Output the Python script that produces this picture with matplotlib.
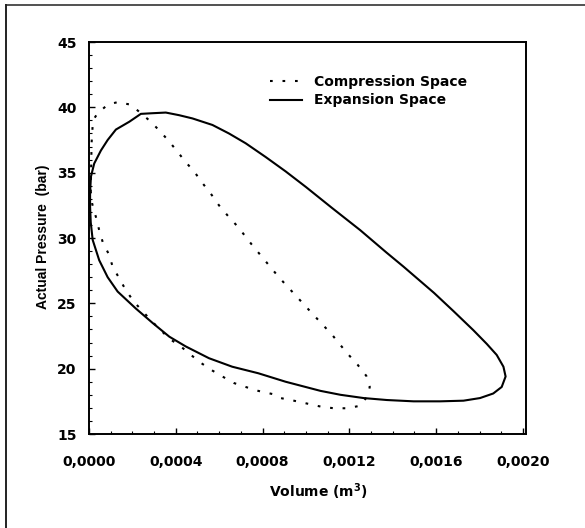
import numpy as np
import matplotlib
matplotlib.use("Agg")
import matplotlib.pyplot as plt
from matplotlib.lines import Line2D
from matplotlib.ticker import FixedLocator, MultipleLocator

# 数据
# 膨胀腔 p-V 回路（实线）
vol_exp = [0.000005, 0.000009, 0.000024, 0.000055, 0.000086, 0.000124,
           0.000186, 0.000239, 0.000293, 0.000354, 0.000415, 0.000477,
           0.000569, 0.000645, 0.000722, 0.000814, 0.000906, 0.00100,
           0.00112, 0.00125, 0.00137, 0.00145, 0.00159, 0.00168, 0.001771,
           0.001833, 0.001879, 0.00191, 0.00192, 0.001902, 0.001863,
           0.001802, 0.001726, 0.001618, 0.001496, 0.001373, 0.001266,
           0.001159, 0.001067, 0.000975, 0.000906, 0.00078, 0.00066,
           0.000553, 0.000446, 0.00037, 0.000293, 0.000216, 0.000132,
           0.000086, 0.000047, 0.000017, 0.000008, 0.000005]
p_exp = [33.5, 34.7, 35.7, 36.7, 37.5, 38.3, 38.9, 39.5, 39.55, 39.6, 39.4,
         39.15, 38.65, 38.0, 37.25, 36.2, 35.1, 33.9, 32.3, 30.6, 28.9, 27.8,
         25.8, 24.4, 22.95, 21.9, 21.05, 20.15, 19.4, 18.6, 18.1, 17.75,
         17.55, 17.5, 17.5, 17.6, 17.75, 18.0, 18.3, 18.7, 19.0, 19.65,
         20.15, 20.8, 21.7, 22.45, 23.5, 24.6, 25.9, 27.0, 28.3, 29.85, 31.2,
         32.4]

# 压缩腔 p-V 回路（点线）
vol_cmp = [0.000008, 0.00001, 0.000012, 0.000017, 0.000024, 0.00004,
           0.000086, 0.000132, 0.000193, 0.000239, 0.000285, 0.000331,
           0.000369, 0.000408, 0.000446, 0.000484, 0.000523, 0.000561,
           0.000599, 0.000645, 0.000684, 0.000722, 0.00075, 0.00083,
           0.000875, 0.00103, 0.00112, 0.001159, 0.001197, 0.001238,
           0.001278, 0.001294, 0.00128, 0.001246, 0.00119, 0.001128,
           0.001067, 0.001013, 0.000944, 0.000883, 0.000845, 0.00078,
           0.000722, 0.000668, 0.000615, 0.000569, 0.000515, 0.00047,
           0.000423, 0.00037, 0.000285, 0.000247, 0.000208, 0.00017,
           0.00014, 0.000109, 0.000093, 0.000063, 0.000047, 0.000032,
           0.000015]
p_cmp = [33.5, 35.5, 37.3, 38.65, 39.15, 39.55, 40.2, 40.4, 40.2, 39.55,
         38.9, 38.1, 37.4, 36.6, 35.8, 35.1, 34.2, 33.4, 32.5, 31.6, 30.9,
         30.1, 29.5, 27.9, 27.0, 24.2, 22.6, 21.8, 21.05, 20.3, 19.45, 18.6,
         17.8, 17.15, 16.97, 16.97, 17.1, 17.3, 17.55, 17.75, 18.06, 18.3,
         18.6, 18.9, 19.4, 19.85, 20.45, 21.05, 21.7, 22.3, 23.7, 24.4, 25.1,
         26.0, 26.9, 27.8, 28.7, 29.7, 30.6, 31.6, 32.6]

x_ticks = [0.0, 0.0004, 0.0008, 0.0012, 0.0016, 0.0020]
x_ticklabels = ["0,0000", "0,0004", "0,0008", "0,0012", "0,0016", "0,0020"]
y_ticks = [15, 20, 25, 30, 35, 40, 45]

labels = ["Compression Space", "Expansion Space"]

plt.rcParams['font.family'] = ['DejaVu Sans']
plt.rcParams['font.weight'] = 'bold'

fig = plt.figure(figsize=(5.85, 5.28), dpi=100)
ax = fig.add_axes([89 / 585, 1 - 434 / 528, 437 / 585, 392 / 528])

# 闭合回路
ax.plot(vol_cmp + vol_cmp[:1], p_cmp + p_cmp[:1], color='black', lw=1.5,
        linestyle=(0, (1.3, 4.7)), label=labels[0])
ax.plot(vol_exp + vol_exp[:1], p_exp + p_exp[:1], color='black', lw=1.5,
        label=labels[1])

ax.set_xlim(0, 0.002014)
ax.set_ylim(15, 45)
ax.xaxis.set_major_locator(FixedLocator(x_ticks))
ax.set_xticklabels(x_ticklabels)
ax.xaxis.set_minor_locator(MultipleLocator(0.0001))
ax.yaxis.set_major_locator(FixedLocator(y_ticks))
ax.yaxis.set_minor_locator(MultipleLocator(1))
ax.tick_params(which='major', direction='in', length=4, width=1,
               labelsize=10)
ax.tick_params(axis='x', which='major', pad=15)
ax.tick_params(axis='y', which='major', pad=9)
ax.tick_params(which='minor', direction='in', length=2, width=0.8)
for lab in ax.get_xticklabels() + ax.get_yticklabels():
    lab.set_fontweight('bold')
for s in ax.spines.values():
    s.set_linewidth(1.4)

ax.set_xlabel("Volume (m$^3$)", fontsize=10, fontweight='bold')
ax.xaxis.set_label_coords((318 - 89) / 437, -(481 - 434) / 392)
ax.set_ylabel("Actual Pressure  (bar)", fontsize=10, fontweight='bold',
              family=['Liberation Sans', 'DejaVu Sans'])
ax.yaxis.set_label_coords(-(89 - 50) / 437, (434 - 237) / 392)

leg = ax.legend(loc='upper left', bbox_to_anchor=((270 - 89) / 437, 0.917),
                frameon=False, fontsize=10, handlelength=2.3,
                handletextpad=0.9, labelspacing=0.35, borderpad=0,
                borderaxespad=0)
for t in leg.get_texts():
    t.set_fontweight('bold')

# 扫描页面的边框线
fig.add_artist(Line2D([6 / 585, 1], [1 - 5 / 528, 1 - 5 / 528],
                      color='#333333', lw=1.2))
fig.add_artist(Line2D([6 / 585, 6 / 585], [0, 1 - 5 / 528],
                      color='#222222', lw=1.4))

fig.savefig("out.png", dpi=100)
plt.close(fig)
